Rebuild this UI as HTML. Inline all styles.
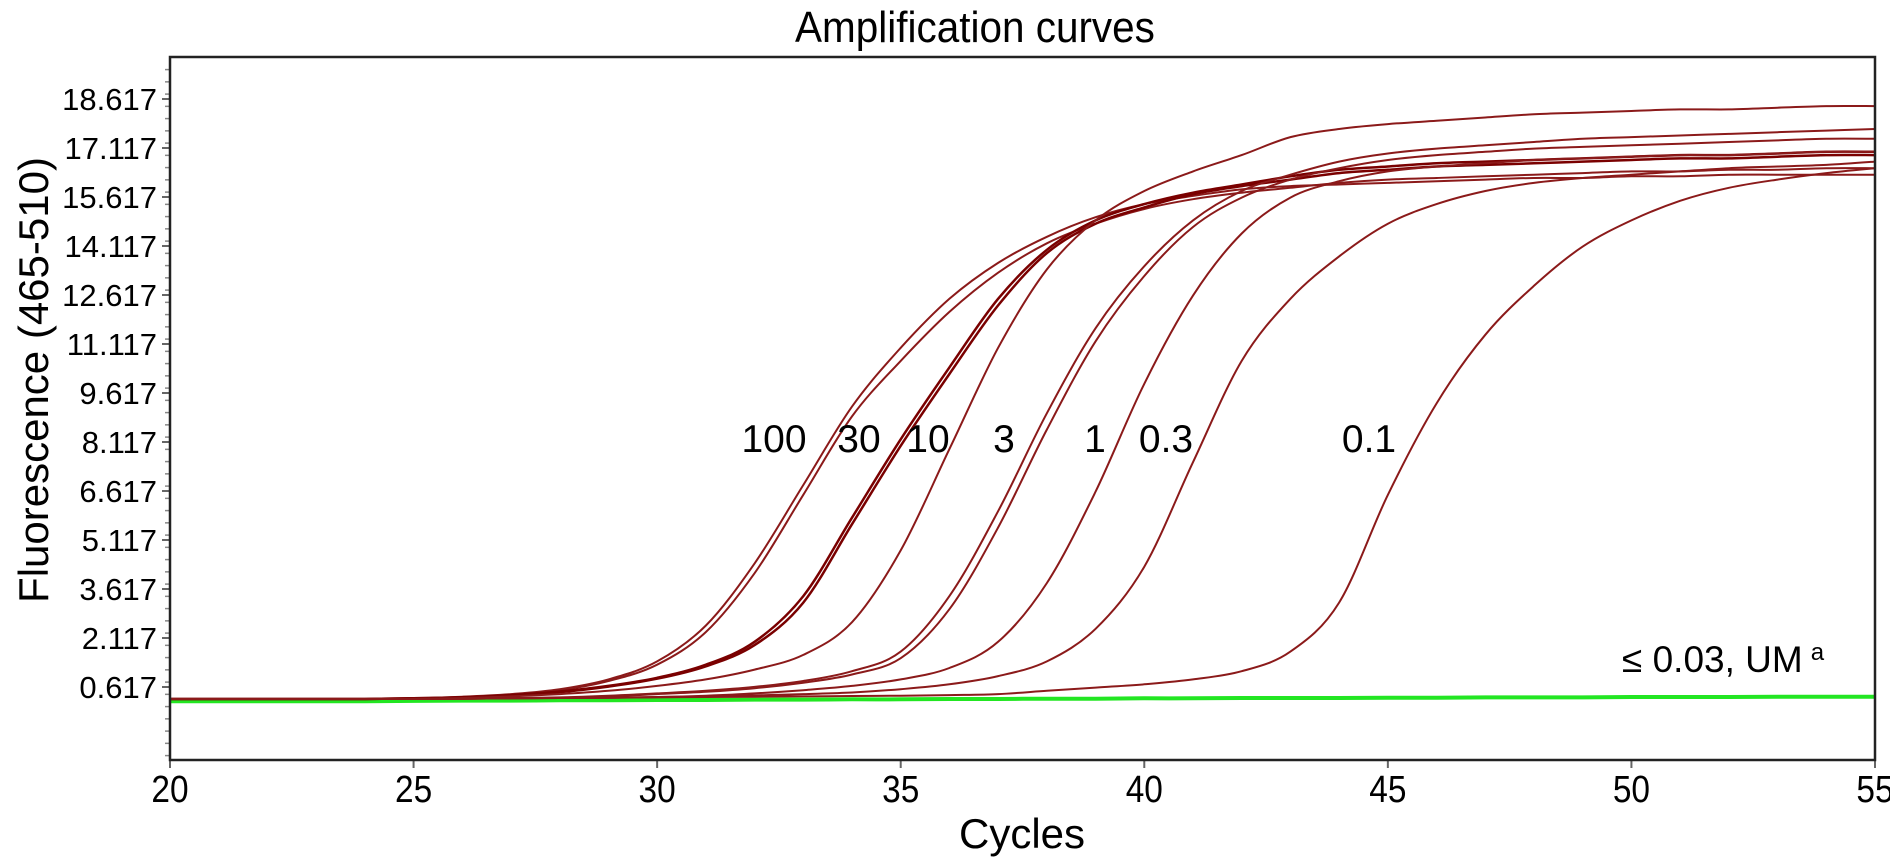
<!DOCTYPE html>
<html><head><meta charset="utf-8"><style>
html,body{margin:0;padding:0;background:#fff;}
svg{display:block;font-family:"Liberation Sans",Arial,sans-serif;}
</style></head><body>
<svg id="chart" width="1890" height="863" viewBox="0 0 1890 863">
<text x="975" y="42" font-size="44" text-anchor="middle" fill="#000" transform="translate(975,0) scale(0.92,1) translate(-975,0)">Amplification curves</text>
<text transform="translate(48,380) rotate(-90)" font-size="42" text-anchor="middle" fill="#000">Fluorescence (465-510)</text>
<text x="1022" y="848" font-size="42" text-anchor="middle" fill="#000">Cycles</text>
<g id="ticks"></g>
<g id="series"></g>
<rect x="170" y="57" width="1705" height="703" fill="none" stroke="#222" stroke-width="2.5"/>
<g id="labels" font-size="39" fill="#000" text-anchor="middle">
<text x="774" y="452">100</text>
<text x="859" y="452">30</text>
<text x="928" y="452">10</text>
<text x="1004" y="452">3</text>
<text x="1095" y="452">1</text>
<text x="1166" y="452">0.3</text>
<text x="1369" y="452">0.1</text>
</g>
<text x="1622" y="672" font-size="37" fill="#000">≤ 0.03, UM<tspan dx="8" dy="-12" font-size="24">a</tspan></text>
</svg>
<script>
const cycles = [20,21,22,23,24,25,26,27,28,29,30,31,32,33,34,35,36,37,38,39,40,41,42,43,44,45,46,47,48,49,50,51,52,53,54,55];
const yTickLabels = ["0.617","2.117","3.617","5.117","6.617","8.117","9.617","11.117","12.617","14.117","15.617","17.117","18.617"];
const xTickLabels = [20,25,30,35,40,45,50,55];
const s100a = [0.25,0.25,0.25,0.25,0.25,0.27,0.32,0.4,0.55,0.85,1.4,2.5,4.4,6.8,9.2,11.0,12.5,13.6,14.4,15.0,15.4,15.65,15.85,15.95,16.0,16.05,16.1,16.15,16.2,16.2,16.25,16.25,16.3,16.3,16.3,16.3];
const s100b = [0.25,0.25,0.25,0.25,0.25,0.26,0.3,0.38,0.52,0.8,1.3,2.3,4.1,6.5,8.9,10.6,12.1,13.3,14.2,14.8,15.25,15.55,15.75,15.9,16.05,16.15,16.2,16.25,16.3,16.35,16.4,16.4,16.45,16.45,16.5,16.5];
const s30a = [0.25,0.25,0.25,0.25,0.25,0.27,0.3,0.37,0.48,0.65,0.9,1.3,2.0,3.4,5.8,8.2,10.4,12.5,14.0,14.9,15.4,15.75,16.0,16.25,16.45,16.55,16.65,16.7,16.75,16.8,16.85,16.9,16.9,16.95,17.0,17.0];
const s30b = [0.25,0.25,0.25,0.25,0.25,0.27,0.3,0.36,0.46,0.63,0.87,1.25,1.9,3.2,5.6,8.0,10.2,12.3,13.9,14.8,15.3,15.7,15.95,16.15,16.35,16.45,16.55,16.6,16.65,16.7,16.75,16.8,16.8,16.85,16.9,16.9];
const s10 = [0.25,0.25,0.25,0.25,0.25,0.26,0.28,0.33,0.4,0.5,0.65,0.85,1.15,1.6,2.6,4.8,7.9,11.0,13.4,14.9,15.8,16.4,16.9,17.45,17.7,17.85,17.95,18.05,18.15,18.2,18.25,18.3,18.3,18.35,18.4,18.4];
const s3a = [0.25,0.25,0.25,0.25,0.25,0.25,0.26,0.28,0.3,0.35,0.42,0.5,0.62,0.8,1.1,1.7,3.4,6.0,9.0,11.6,13.5,14.9,15.8,16.3,16.7,16.95,17.1,17.2,17.3,17.4,17.45,17.5,17.55,17.6,17.65,17.7];
const s3b = [0.25,0.25,0.25,0.25,0.25,0.25,0.26,0.27,0.29,0.33,0.4,0.47,0.58,0.75,1.0,1.5,3.0,5.5,8.5,11.2,13.2,14.7,15.6,16.15,16.5,16.75,16.9,17.0,17.1,17.15,17.2,17.25,17.3,17.35,17.4,17.4];
const s1 = [0.25,0.25,0.25,0.25,0.25,0.25,0.26,0.27,0.28,0.29,0.31,0.35,0.42,0.52,0.65,0.85,1.2,2.0,3.8,6.6,9.9,12.6,14.5,15.6,16.1,16.4,16.55,16.65,16.75,16.8,16.85,16.9,16.9,16.95,17.0,17.0];
const s03 = [0.25,0.25,0.25,0.25,0.25,0.25,0.26,0.27,0.28,0.29,0.31,0.33,0.36,0.4,0.45,0.55,0.7,0.95,1.4,2.4,4.3,7.5,10.6,12.5,13.8,14.8,15.4,15.8,16.05,16.2,16.3,16.4,16.5,16.55,16.6,16.7];
const s01 = [0.25,0.25,0.25,0.25,0.25,0.25,0.26,0.27,0.28,0.29,0.3,0.31,0.32,0.33,0.34,0.35,0.37,0.4,0.5,0.6,0.7,0.85,1.1,1.7,3.2,6.5,9.3,11.4,12.9,14.1,14.9,15.5,15.9,16.15,16.35,16.5];
const sNeg = [0.18,0.18,0.18,0.18,0.18,0.19,0.2,0.2,0.21,0.21,0.22,0.22,0.23,0.23,0.24,0.24,0.25,0.25,0.26,0.26,0.27,0.27,0.28,0.28,0.28,0.29,0.29,0.3,0.3,0.3,0.31,0.31,0.31,0.32,0.32,0.32];

const NS = "http://www.w3.org/2000/svg";
const X0 = 170, X1 = 1875, Y0 = 57, Y1 = 760;
function xScale(c){ return X0 + (c - 20) * (X1 - X0) / 35; }
function yScale(v){ return 687 - (v - 0.617) * (588 / 18); }

const ticks = document.getElementById('ticks');
for (let i = 0; i < yTickLabels.length; i++) {
  const v = parseFloat(yTickLabels[i]);
  const y = yScale(v);
  const ln = document.createElementNS(NS, 'line');
  ln.setAttribute('x1', X0 - 8); ln.setAttribute('x2', X0); ln.setAttribute('y1', y); ln.setAttribute('y2', y);
  ln.setAttribute('stroke', '#666'); ln.setAttribute('stroke-width', '2');
  
  
  ticks.appendChild(ln);
  const t = document.createElementNS(NS, 'text');
  t.setAttribute('x', X0 - 13); t.setAttribute('y', y + 11);
  t.setAttribute('font-size', '31'); t.setAttribute('text-anchor', 'end');
  t.textContent = yTickLabels[i];
  
  
  ticks.appendChild(t);
}
for (let v = -1.483; v < 19.7; v += 0.375) {
  const y = yScale(v);
  if (y < Y0 || y > Y1) continue;
  const ln = document.createElementNS(NS, 'line');
  ln.setAttribute('x1', X0 - 5); ln.setAttribute('x2', X0); ln.setAttribute('y1', y); ln.setAttribute('y2', y);
  ln.setAttribute('stroke', '#888'); ln.setAttribute('stroke-width', '1.5');
  
  
  ticks.appendChild(ln);
}
for (let i = 0; i < xTickLabels.length; i++) {
  const x = xScale(xTickLabels[i]);
  const ln = document.createElementNS(NS, 'line');
  ln.setAttribute('x1', x); ln.setAttribute('x2', x); ln.setAttribute('y1', Y1); ln.setAttribute('y2', Y1 + 8);
  ln.setAttribute('stroke', '#666'); ln.setAttribute('stroke-width', '2');
  
  
  ticks.appendChild(ln);
  const t = document.createElementNS(NS, 'text');
  t.setAttribute('x', 0); t.setAttribute('y', 0);
  t.setAttribute('transform', 'translate(' + x + ',' + (Y1 + 42) + ') scale(0.88,1)');
  t.setAttribute('font-size', '38'); t.setAttribute('text-anchor', 'middle');
  t.textContent = String(xTickLabels[i]);
  
  
  ticks.appendChild(t);
}

const seriesG = document.getElementById('series');
function drawSeries(vals, color, width, name){
  const pts = cycles.map((c, i) => [xScale(c), yScale(vals[i])]);
  let d = 'M' + pts[0][0].toFixed(1) + ',' + pts[0][1].toFixed(1);
  for (let i = 0; i < pts.length - 1; i++) {
    const p0 = pts[Math.max(0, i - 1)], p1 = pts[i], p2 = pts[i + 1], p3 = pts[Math.min(pts.length - 1, i + 2)];
    const c1x = p1[0] + (p2[0] - p0[0]) / 6, c1y = p1[1] + (p2[1] - p0[1]) / 6;
    const c2x = p2[0] - (p3[0] - p1[0]) / 6, c2y = p2[1] - (p3[1] - p1[1]) / 6;
    d += 'C' + c1x.toFixed(1) + ',' + c1y.toFixed(1) + ' ' + c2x.toFixed(1) + ',' + c2y.toFixed(1) + ' ' + p2[0].toFixed(1) + ',' + p2[1].toFixed(1);
  }
  const p = document.createElementNS(NS, 'path');
  p.setAttribute('d', d);
  p.setAttribute('fill', 'none');
  p.setAttribute('stroke', color);
  p.setAttribute('stroke-width', width);
  p.setAttribute('stroke-linejoin', 'round');
  
  
  seriesG.appendChild(p);
}
drawSeries(sNeg, '#22e622', 4, 'curve-negative');
drawSeries(s100a, '#8b1a1a', 2, 'curve-100-a');
drawSeries(s100b, '#8b1a1a', 2, 'curve-100-b');
drawSeries(s30a, '#7a0000', 2.5, 'curve-30-a');
drawSeries(s30b, '#7a0000', 2.5, 'curve-30-b');
drawSeries(s10, '#8b1a1a', 2, 'curve-10');
drawSeries(s3a, '#8b1a1a', 2, 'curve-3-a');
drawSeries(s3b, '#8b1a1a', 2, 'curve-3-b');
drawSeries(s1, '#8b1a1a', 2, 'curve-1');
drawSeries(s03, '#8b1a1a', 2, 'curve-0-3');
drawSeries(s01, '#8b1a1a', 2, 'curve-0-1');
</script>
</body></html>
